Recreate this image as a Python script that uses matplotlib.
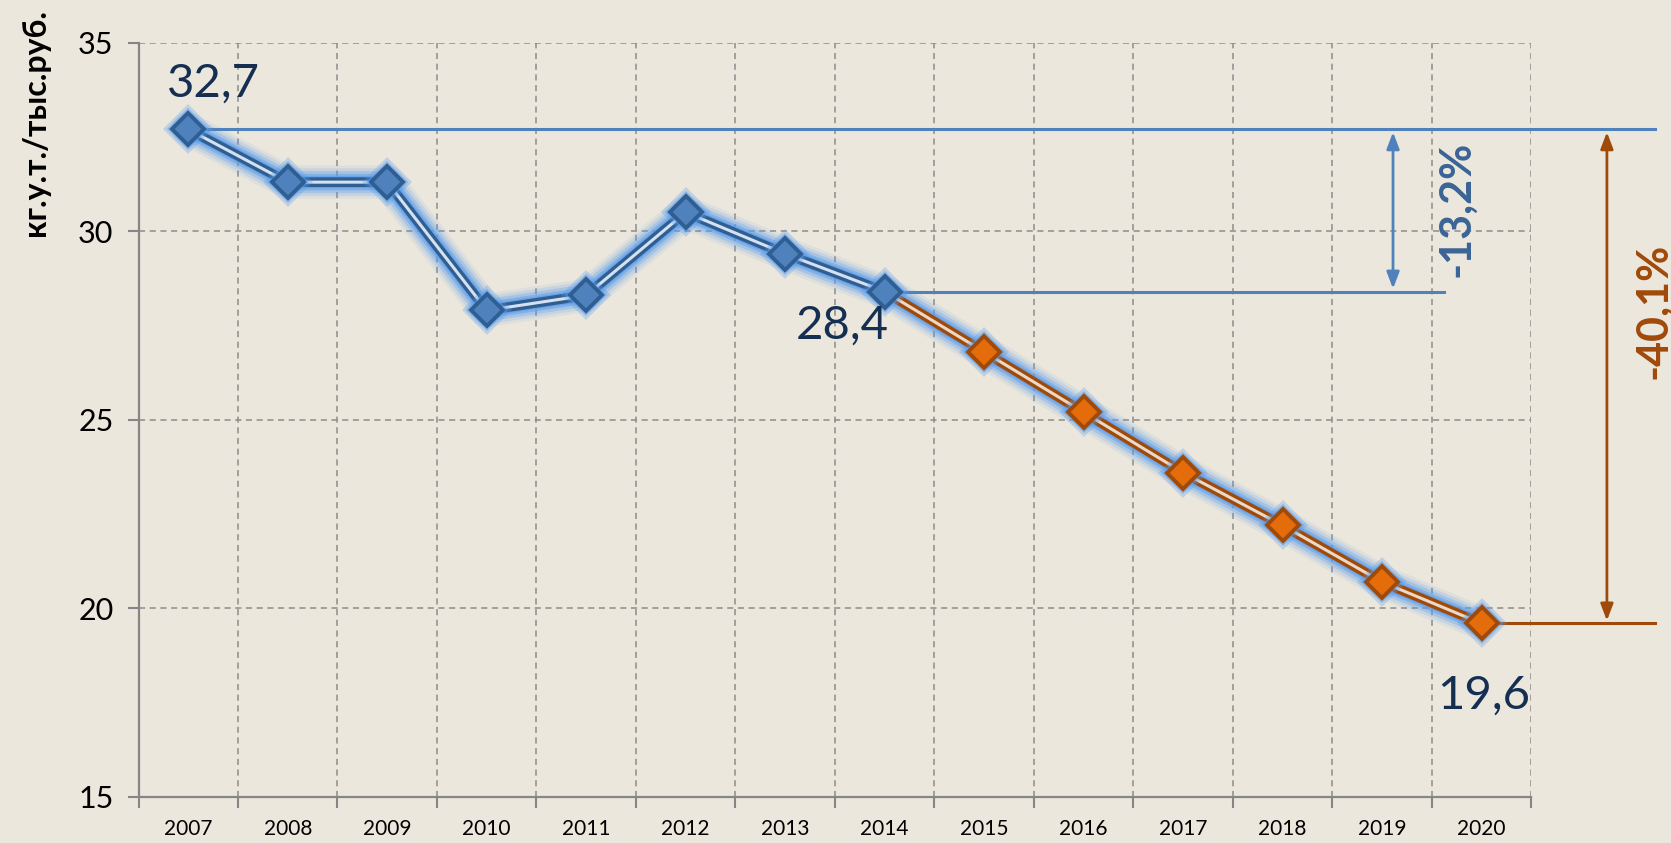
import matplotlib
matplotlib.use("Agg")
import matplotlib.pyplot as plt
import numpy as np

years = ["2007", "2008", "2009", "2010", "2011", "2012", "2013",
         "2014", "2015", "2016", "2017", "2018", "2019", "2020"]
values = [32.7, 31.3, 31.3, 27.9, 28.3, 30.5, 29.4,
          28.4, 26.8, 25.2, 23.6, 22.2, 20.7, 19.6]
n_fact = 8  # 2007..2014 actual (blue), rest forecast (orange)
yticks = [15, 20, 25, 30, 35]
ylabel = "кг.у.т./тыс.руб."
lbl_first, lbl_mid, lbl_last = "32,7", "28,4", "19,6"
chg_mid, chg_total = "-13,2%", "-40,1%"

plt.rcParams['font.family'] = ['Lato', 'DejaVu Sans']

BG = '#ECE7DC'
BLUE = '#4F81BD'
BLUE_D = '#2F5E92'
BROWN = '#A04A0A'
ORANGE = '#E46C0A'
NAVY = '#142F52'
GLOW = '#5A9CEB'

fig = plt.figure(figsize=(16.71, 8.43), dpi=100)
fig.patch.set_facecolor(BG)
ax = fig.add_axes([0.0829, 0.0546, 0.8335, 0.8949])
ax.set_facecolor(BG)

x = np.arange(len(years)) + 0.5
v = np.array(values)

# grid
for gx in range(1, len(years) + 1):
    ax.axvline(gx, color='#8C8C8C', lw=1.1, ls=(0, (4, 3)), zorder=1)
for gy in yticks[1:]:
    ax.axhline(gy, color='#8C8C8C', lw=1.1, ls=(0, (4, 3)), zorder=1)

# glow (single compound layer so overlaps do not stack)
for lw, a in [(24, 0.10), (20, 0.16), (16, 0.28), (12, 0.45), (9, 0.6)]:
    ax.plot(x, v, color=GLOW, lw=lw, alpha=a, solid_joinstyle='round',
            solid_capstyle='round', zorder=2)

# double lines
xs_b, vs_b = x[:n_fact], v[:n_fact]
xs_o, vs_o = x[n_fact - 1:], v[n_fact - 1:]
ax.plot(xs_b, vs_b, color=BLUE_D, lw=7, zorder=3, solid_joinstyle='miter')
ax.plot(xs_b, vs_b, color='#D5E1F0', lw=2.2, zorder=3.1, solid_joinstyle='miter')
ax.plot(xs_o, vs_o, color=BROWN, lw=7, zorder=3, solid_joinstyle='miter')
ax.plot(xs_o, vs_o, color='#EAD8C8', lw=2.2, zorder=3.1, solid_joinstyle='miter')

# marker glow
ax.plot(x, v, 'D', ms=25, color=GLOW, alpha=0.3, mew=0, zorder=3.5)
ax.plot(x, v, 'D', ms=21, color=GLOW, alpha=0.5, mew=0, zorder=3.5)
ax.plot(xs_b, vs_b, 'D', ms=16.5, mfc=BLUE, mec=BLUE_D, mew=2.8, ls='none', zorder=4)
ax.plot(x[n_fact:], v[n_fact:], 'D', ms=16.5, mfc=ORANGE, mec=BROWN, mew=2.8,
        ls='none', zorder=4)

ax.set_xlim(0, len(years))
ax.set_ylim(15, 35)

# reference lines
x_end = 15.24
ax.plot([x[0], x_end], [v[0], v[0]], color=BLUE, lw=2.2, clip_on=False, zorder=2.5)
ax.plot([x[n_fact - 1], 13.12], [v[n_fact - 1]] * 2, color=BLUE, lw=2.2,
        clip_on=False, zorder=2.5)
ax.plot([x[-1], x_end], [v[-1], v[-1]], color=BROWN, lw=2.2, clip_on=False, zorder=2.5)

ax.annotate('', xy=(12.61, v[n_fact - 1]), xytext=(12.61, v[0]),
            arrowprops=dict(arrowstyle='<|-|>,head_length=1.0,head_width=0.38',
                            color=BLUE, lw=2), annotation_clip=False)
ax.annotate('', xy=(14.76, v[-1]), xytext=(14.76, v[0]),
            arrowprops=dict(arrowstyle='<|-|>,head_length=1.0,head_width=0.38',
                            color=BROWN, lw=2), annotation_clip=False)

ax.text(13.24, (v[0] + v[n_fact - 1]) / 2 + 0.05, chg_mid, rotation=90, ha='center',
        va='center', fontsize=31, fontweight='bold', color='#3A6496', clip_on=False)
ax.text(15.22, 27.9, chg_total, rotation=90, ha='center', va='center',
        fontsize=31, fontweight='bold', color=BROWN, clip_on=False)

# data labels
lab_kw = dict(textcoords='offset pixels', ha='center', va='center',
              fontsize=34, color=NAVY, annotation_clip=False, zorder=6)
ax.annotate(lbl_first, (x[0], v[0]), xytext=(25, 46), **lab_kw)
ax.annotate(lbl_mid, (x[n_fact - 1], v[n_fact - 1]), xytext=(-42, -34), **lab_kw)
ax.annotate(lbl_last, (x[-1], v[-1]), xytext=(2, -72), **lab_kw)

# axes styling
for s in ['top', 'right']:
    ax.spines[s].set_visible(False)
for s in ['left', 'bottom']:
    ax.spines[s].set_color('#868686')
    ax.spines[s].set_linewidth(1.6)
    ax.spines[s].set_zorder(2)

ax.set_yticks(yticks)
ax.set_yticklabels([str(t) for t in yticks])
ax.tick_params(axis='y', length=8, width=1.5, color='#868686', labelsize=22, pad=10)
ax.set_xticks(np.arange(0, len(years) + 1))
ax.set_xticklabels([])
ax.tick_params(axis='x', which='major', length=8, width=1.5, color='#868686')
ax.set_xticks(x, minor=True)
ax.set_xticklabels(years, minor=True)
ax.tick_params(axis='x', which='minor', length=0, labelsize=15, pad=16)

fig.text(0.021, 0.855, ylabel, rotation=90, ha='center', va='center',
         fontsize=23, fontweight='bold', color='black')

fig.savefig('out.png', dpi=100, facecolor=BG)
